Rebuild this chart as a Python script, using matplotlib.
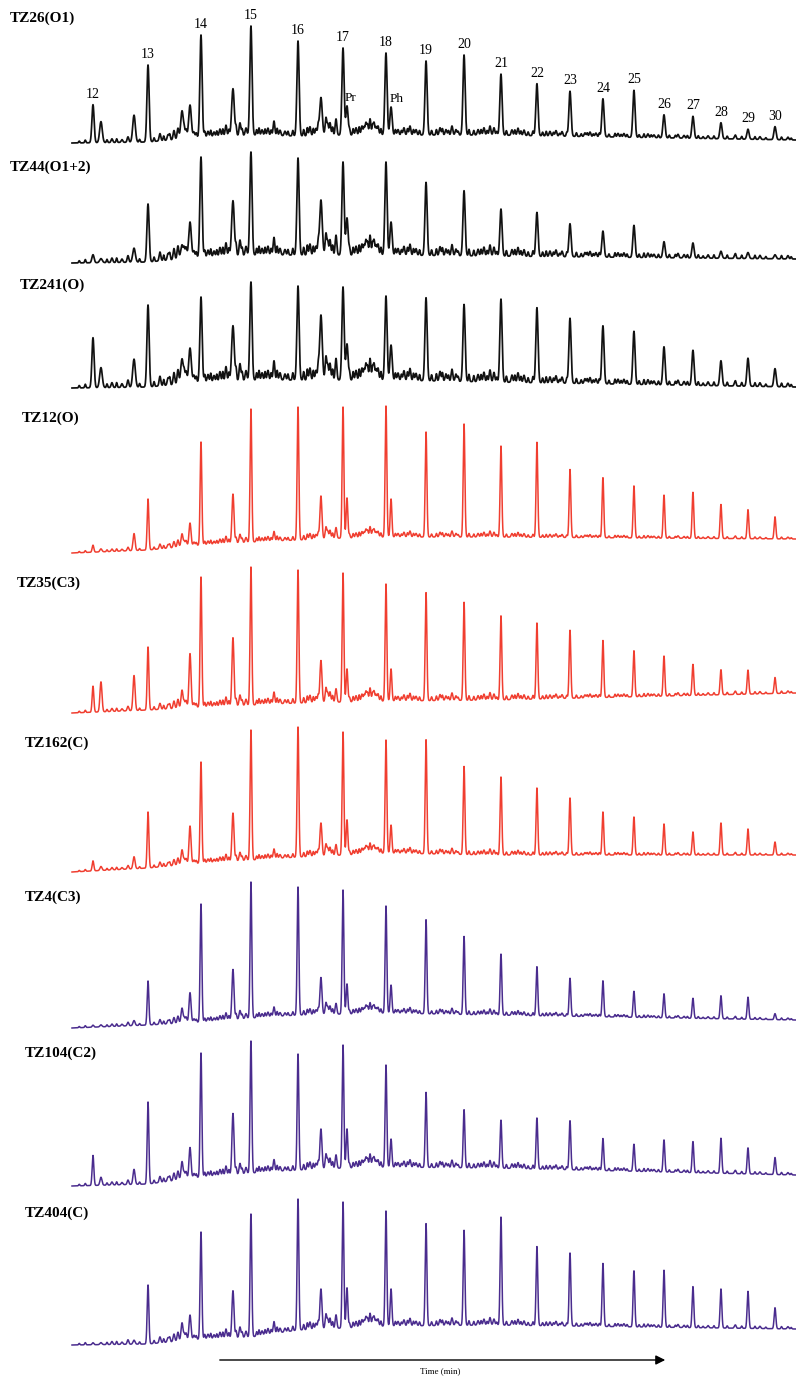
import numpy as np
import matplotlib.pyplot as plt

# samples, top to bottom
samples = ["TZ26(O1)", "TZ44(O1+2)", "TZ241(O)", "TZ12(O)", "TZ35(C3)",
           "TZ162(C)", "TZ4(C3)", "TZ104(C2)", "TZ404(C)"]
trace_colors = ["#111111", "#111111", "#111111",
                "#f03e30", "#f03e30", "#f03e30",
                "#4a2c8e", "#4a2c8e", "#4a2c8e"]

# n-alkanes nC12..nC30, retention time (min)
alkane_names = ["12", "13", "14", "15", "16", "17", "18", "19", "20", "21",
                "22", "23", "24", "25", "26", "27", "28", "29", "30"]
alkane_rt = [1.74, 6.30, 10.69, 14.83, 18.73, 22.46, 26.02, 29.34, 32.49, 35.55,
             38.53, 41.27, 44.00, 46.57, 49.06, 51.46, 53.78, 56.02, 58.26]

# peak heights (relative abundance) for each sample
h_tz26 = [38, 77, 102, 109, 95, 87, 82, 74, 80, 61, 52, 45, 38, 47, 23, 22, 16, 10, 13]
h_tz44 = [8, 58, 100, 103, 97, 93, 93, 73, 65, 47, 44, 33, 26, 32, 16, 15, 7, 6, 4]
h_tz241 = [50, 82, 85, 98, 94, 93, 84, 83, 77, 83, 75, 65, 58, 53, 38, 35, 25, 28, 18]
h_tz12 = [7, 51, 103, 133, 133, 131, 131, 105, 113, 91, 95, 68, 60, 52, 43, 46, 34, 29, 22]
h_tz35 = [26, 63, 130, 138, 133, 129, 117, 108, 98, 84, 76, 68, 57, 46, 40, 31, 25, 24, 16]
h_tz162 = [10, 56, 101, 130, 130, 123, 113, 114, 88, 78, 67, 57, 43, 38, 31, 23, 32, 26, 13]
h_tz4 = [2, 44, 118, 136, 128, 124, 107, 94, 78, 61, 49, 38, 36, 26, 24, 20, 23, 22, 6]
h_tz104 = [30, 82, 124, 132, 116, 123, 102, 75, 58, 48, 51, 49, 32, 27, 32, 31, 35, 26, 17]
h_tz404 = [2, 59, 107, 123, 131, 126, 115, 102, 95, 108, 79, 73, 63, 56, 57, 41, 39, 37, 21]
alkane_heights = [h_tz26, h_tz44, h_tz241, h_tz12, h_tz35, h_tz162, h_tz4, h_tz104, h_tz404]

# pristane / phytane
pr_rt, ph_rt = 22.79, 26.44
pr_heights = [29, 37, 36, 40, 33, 35, 30, 39, 40]
ph_heights = [28, 33, 35, 38, 32, 28, 28, 28, 37]

# larger unresolved compounds between the n-alkanes
minor_rt = [2.40, 5.14, 9.12, 9.78, 13.34, 20.63]
minor_heights = [
    [21, 27, 28, 33, 47, 38],
    [4, 14, 14, 36, 55, 55],
    [20, 28, 25, 35, 55, 65],
    [3, 17, 13, 23, 49, 43],
    [30, 35, 18, 54, 68, 42],
    [4, 12, 15, 38, 48, 33],
    [2, 5, 15, 30, 50, 37],
    [8, 15, 18, 31, 61, 40],
    [2, 4, 18, 25, 47, 40],
]

# small background peaks (shared), scaled per sample
small_rt = [3.31, 4.14, 4.64, 7.29, 7.96, 8.45, 8.78, 9.45, 10.11, 11.27, 11.77, 12.26,
            12.76, 13.92, 14.42, 15.75, 16.24, 16.74, 17.24, 17.65, 19.72, 20.22, 21.05,
            21.38, 21.88, 23.54, 24.03, 24.36, 24.70, 25.03, 25.36, 27.02, 27.51, 28.01,
            28.51, 30.50, 30.99, 31.49, 31.82, 33.65, 34.14, 34.64, 34.97, 36.46, 36.96,
            37.46, 39.61, 40.11, 40.61, 42.51, 42.93, 43.42, 45.25, 45.74, 47.73, 48.23,
            50.22, 50.72, 52.71, 54.94, 57.01, 59.33]
small_h = [4, 3, 6, 8, 6, 10, 12, 10, 6, 6, 5, 8,
           12, 14, 8, 6, 8, 16, 6, 5, 10, 8, 20,
           14, 18, 8, 10, 14, 18, 14, 10, 6, 8, 10,
           6, 8, 6, 10, 6, 6, 8, 10, 8, 6, 8,
           6, 5, 6, 5, 4, 5, 4, 4, 4, 4, 3,
           4, 3, 3, 3, 3, 3]

# fine spikes that give the trace its ragged look
spike_rt = [0.6, 1.1, 2.9, 3.7, 5.6, 6.8, 7.6, 8.1, 9.3, 10.3, 11.0, 11.5, 12.0,
            12.5, 13.0, 13.6, 14.1, 15.3, 15.5, 16.0, 16.5, 17.0, 17.9, 18.3, 19.2,
            19.5, 20.0, 20.4, 21.2, 21.6, 23.0, 23.3, 23.8, 24.2, 24.5, 24.9, 25.2,
            25.6, 26.8, 27.3, 27.8, 28.3, 28.8, 29.8, 30.2, 30.7, 31.2, 32.0, 32.9,
            33.3, 33.9, 34.4, 35.2, 36.0, 36.7, 37.2, 37.8, 38.2, 39.0, 39.3, 39.9,
            40.4, 41.0, 41.8, 42.2, 42.7, 43.2, 43.7, 44.5, 45.0, 45.5, 46.0, 47.0,
            47.4, 48.0, 48.6, 49.5, 50.0, 51.0, 51.9, 52.3, 53.2, 54.3, 55.0, 55.5,
            56.6, 57.5, 58.8, 59.6]
spike_h = [2, 3, 3, 4, 3, 4, 5, 6, 7, 5, 6, 7, 6,
           8, 7, 9, 7, 6, 8, 7, 6, 8, 5, 6, 7,
           9, 8, 10, 11, 9, 6, 7, 9, 8, 10, 9, 8,
           7, 6, 5, 7, 6, 5, 5, 6, 7, 5, 4, 6,
           5, 6, 5, 4, 5, 6, 5, 4, 5, 4, 5, 4,
           3, 4, 4, 3, 4, 3, 4, 3, 4, 3, 3, 3,
           4, 3, 3, 3, 3, 3, 3, 2, 3, 3, 2, 3,
           3, 2, 3, 2]
small_scale = [0.9, 1.1, 1.2, 0.6, 0.75, 0.6, 0.6, 0.75, 0.75]

# baseline drift (rise above start level) at anchor times
base_rt = [0, 6.3, 10.69, 14.83, 18.73, 22.46, 26.02, 35, 60]
base_rise = [
    [0, 1, 6, 8, 7, 8, 8, 8, 3],
    [0, 1, 6, 8, 8, 8, 8, 7, 4],
    [0, 1, 6, 8, 8, 8, 8, 6, 1],
    [0, 3, 8, 11, 13, 15, 16, 16, 14],
    [0, 3, 6, 8, 10, 11, 12, 13, 20],
    [0, 4, 9, 12, 15, 17, 19, 17, 17],
    [0, 3, 6, 10, 13, 14, 15, 13, 8],
    [0, 2, 9, 13, 16, 18, 19, 18, 11],
    [0, 1, 6, 8, 15, 17, 19, 20, 16],
]

# layout (pixels)
W, H = 796, 1376
baseline_px = [143, 263, 388, 553, 713, 872, 1028, 1186, 1345]
label_pos = [(10, 18), (10, 167), (20, 285), (22, 418), (17, 583),
             (25, 743), (25, 897), (25, 1053), (25, 1213)]

t = np.linspace(0, 60, 6001)


def peak(rt, h, w):
    return h * np.exp(-0.5 * ((t - rt) / w) ** 2)


fig = plt.figure(figsize=(W / 100, H / 100), dpi=100)
serif = "Liberation Serif"

for i, name in enumerate(samples):
    ax_h = 150
    ax = fig.add_axes([72 / W, 1 - baseline_px[i] / H, 724 / W, ax_h / H])
    ax.set_xlim(0, 60)
    ax.set_ylim(0, ax_h)
    ax.axis("off")

    w_main = 0.09 if i < 3 else 0.07
    y = np.interp(t, base_rt, base_rise[i]).astype(float)
    for rt, h in zip(alkane_rt, alkane_heights[i]):
        y += peak(rt, h, w_main)
    y += peak(pr_rt, pr_heights[i], w_main)
    y += peak(ph_rt, ph_heights[i], w_main)
    for rt, h in zip(minor_rt, minor_heights[i]):
        y += peak(rt, h, w_main * 1.2)
    for rt, h in zip(small_rt, small_h):
        y += peak(rt, h * small_scale[i], 0.07)
    for rt, h in zip(spike_rt, spike_h):
        y += peak(rt, h * small_scale[i], 0.05)

    lw = 1.25 if i < 3 else 1.1
    ax.plot(t, y, color=trace_colors[i], lw=lw, clip_on=False)

    lx, ly = label_pos[i]
    fig.text(lx / W, 1 - ly / H, name, fontsize=11, fontweight="bold",
             family=serif, ha="left", va="center")

    if i == 0:
        base = np.interp(alkane_rt, base_rt, base_rise[0])
        for rt, h, b, lab in zip(alkane_rt, alkane_heights[0], base, alkane_names):
            ax.text(rt, h + b + 4, lab, fontsize=10, family=serif,
                    ha="center", va="bottom")
        b_pr = np.interp(pr_rt, base_rt, base_rise[0])
        b_ph = np.interp(ph_rt, base_rt, base_rise[0])
        ax.text(pr_rt - 0.2, pr_heights[0] + b_pr + 2, "Pr", fontsize=9.5,
                family=serif, ha="left", va="bottom")
        ax.text(ph_rt - 0.1, ph_heights[0] + b_ph + 2, "Ph", fontsize=9.5,
                family=serif, ha="left", va="bottom")

# time arrow
ov = fig.add_axes([0, 0, 1, 1])
ov.set_xlim(0, W)
ov.set_ylim(H, 0)
ov.axis("off")
ov.annotate("", xy=(668, 1360), xytext=(217, 1360),
            arrowprops=dict(arrowstyle="-|>", color="black", lw=1.0,
                            mutation_scale=14))
ov.text(440, 1371, "Time (min)", fontsize=6.5, family=serif,
        ha="center", va="center")

fig.savefig("out.png", dpi=100)
